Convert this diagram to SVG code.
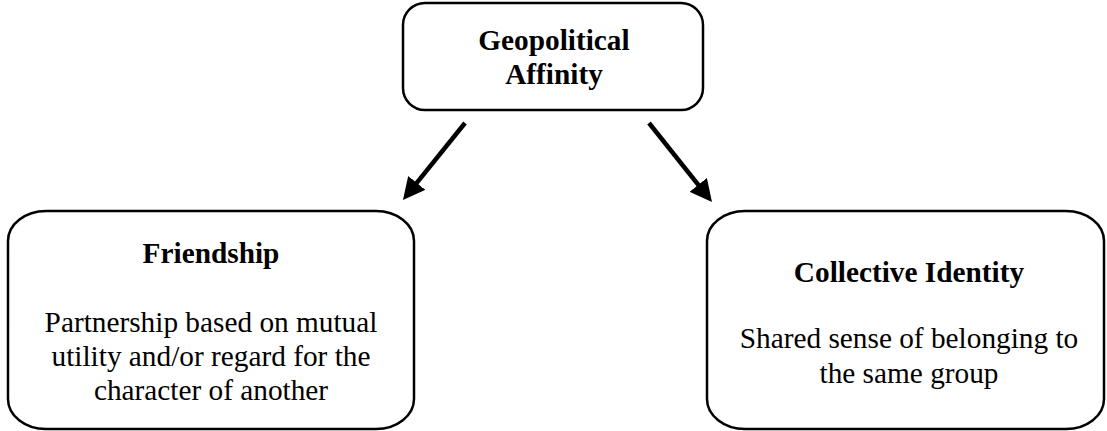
<svg xmlns="http://www.w3.org/2000/svg" width="1107" height="431" viewBox="0 0 1107 431">
  <defs>
    <style>
      .box { fill: #ffffff; stroke: #000000; stroke-width: 2.5; }
      text { font-family: 'Times New Roman', 'Liberation Serif', serif; font-size: 29.3px; fill: #000; text-anchor: middle; }
      .title { font-weight: bold; }
      .conn { stroke: #000; stroke-width: 4.5; fill: none; }
    </style>
    <marker id="arrow" markerUnits="userSpaceOnUse" markerWidth="24" markerHeight="22" refX="10" refY="11" orient="auto">
      <path d="M0,0 L22,11 L0,22 z" fill="#000"/>
    </marker>
  </defs>
  <rect width="1107" height="431" fill="#ffffff"/>

  <g id="connectors">
    <line class="conn" x1="465" y1="123" x2="410.5" y2="190.7" marker-end="url(#arrow)"/>
    <line class="conn" x1="649" y1="123" x2="704.5" y2="192.7" marker-end="url(#arrow)"/>
  </g>

  <g id="node-geopolitical-affinity">
    <rect class="box" x="403" y="3" width="300" height="107" rx="22" ry="22"/>
    <text class="title" x="554" y="50">Geopolitical</text>
    <text class="title" x="554" y="84">Affinity</text>
  </g>

  <g id="node-friendship">
    <rect class="box" x="8" y="211" width="406" height="218" rx="38" ry="30"/>
    <text class="title" x="211" y="263">Friendship</text>
    <text class="body" x="211" y="332">Partnership based on mutual</text>
    <text class="body" x="211" y="366">utility and/or regard for the</text>
    <text class="body" x="211" y="400">character of another</text>
  </g>

  <g id="node-collective-identity">
    <rect class="box" x="707" y="211" width="397" height="218" rx="38" ry="30"/>
    <text class="title" x="909" y="282">Collective Identity</text>
    <text class="body" x="909" y="348">Shared sense of belonging to</text>
    <text class="body" x="909" y="383">the same group</text>
  </g>
</svg>
